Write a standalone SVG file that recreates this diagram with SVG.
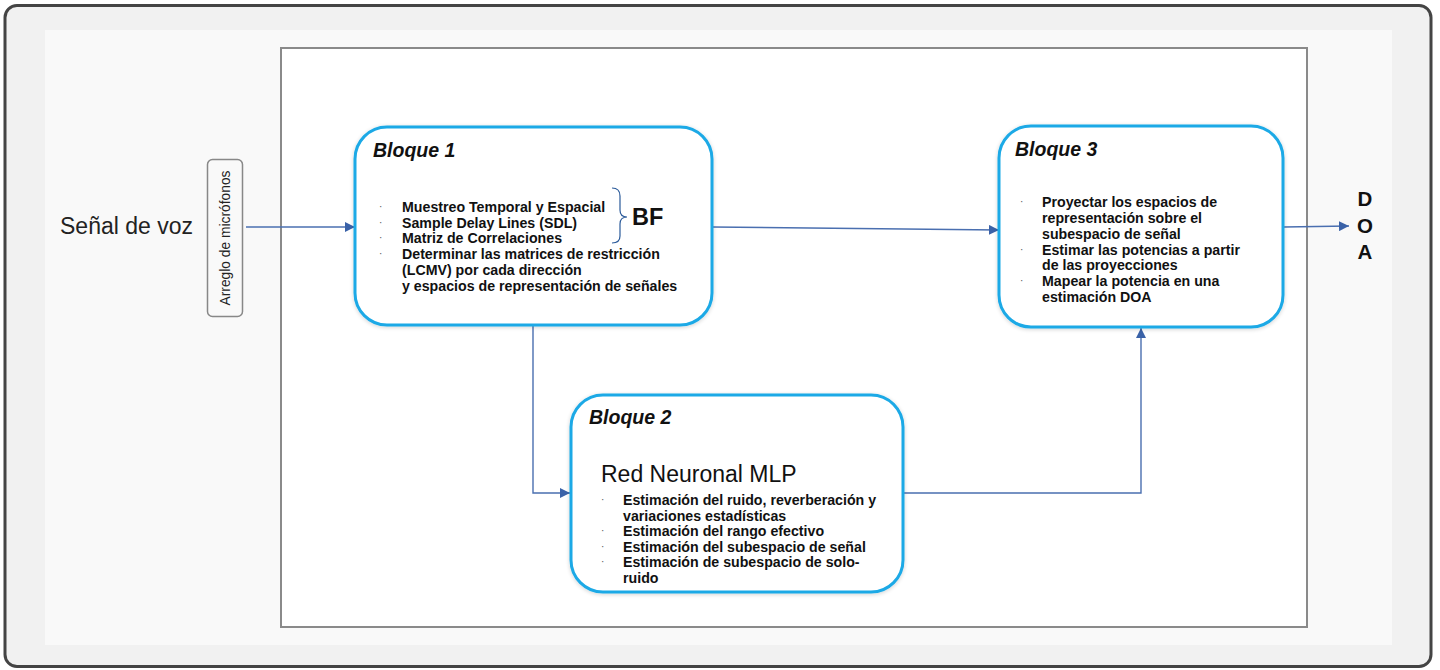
<svg xmlns="http://www.w3.org/2000/svg" width="1440" height="670" viewBox="0 0 1440 670">
  <defs>
    <style>
      .blk { fill: #ffffff; stroke: #1ba9e6; stroke-width: 3; filter: url(#soft); }
      .ttl { font-family: "Liberation Sans", Arial, sans-serif; font-weight: bold; font-style: italic; font-size: 19.5px; fill: #111; }
      .itm { font-family: "Liberation Sans", Arial, sans-serif; font-weight: bold; font-size: 14.2px; fill: #111; }
      .dot { font-family: "Liberation Sans", Arial, sans-serif; font-size: 10px; fill: #555; }
      .wire { fill: none; stroke: #4a6fb0; stroke-width: 1.4; }
    </style>
    <marker id="arr" viewBox="0 0 10 10" refX="10" refY="5" markerWidth="10" markerHeight="10" markerUnits="userSpaceOnUse" orient="auto">
      <path d="M0,0 L10,5 L0,10 z" fill="#3a62a8"/>
    </marker>
    <filter id="soft" x="-10%" y="-10%" width="120%" height="120%">
      <feGaussianBlur in="SourceAlpha" stdDeviation="2"/>
      <feOffset dx="0" dy="1" result="b"/>
      <feComponentTransfer><feFuncA type="linear" slope="0.18"/></feComponentTransfer>
      <feMerge><feMergeNode/><feMergeNode in="SourceGraphic"/></feMerge>
    </filter>
  </defs>

  <!-- frame and panels -->
  <rect x="5" y="5.5" width="1426" height="661" rx="12" fill="#f1f1f1" stroke="#444" stroke-width="3"/>
  <rect x="45" y="30" width="1347" height="615" fill="#f9f9f9"/>
  <rect x="281" y="48" width="1026" height="579" fill="#ffffff" stroke="#8a8a8a" stroke-width="2"/>

  <!-- input -->
  <g id="senal">
    <text x="60" y="234" font-family="Liberation Sans, Arial, sans-serif" font-size="23" fill="#222">Señal de voz</text>
  </g>
  <g id="arreglo">
    <rect x="207.5" y="159.5" width="35" height="157" rx="5" fill="#f9f9f9" stroke="#888" stroke-width="1.5"/>
    <text transform="translate(229.5,238) rotate(-90)" text-anchor="middle" font-family="Liberation Sans, Arial, sans-serif" font-size="13.8" fill="#222">Arreglo de micrófonos</text>
  </g>

  <!-- connectors -->
  <g id="connectors">
    <line class="wire" x1="246" y1="227" x2="355" y2="227" marker-end="url(#arr)"/>
    <line class="wire" x1="712" y1="227" x2="999" y2="230" marker-end="url(#arr)"/>
    <line class="wire" x1="1284" y1="227" x2="1349" y2="226" marker-end="url(#arr)"/>
    <polyline class="wire" points="533,325 533,493 570,493" marker-end="url(#arr)"/>
    <polyline class="wire" points="904,493 1141,493 1141,328" marker-end="url(#arr)"/>
  </g>

  <!-- Bloque 1 -->
  <g id="bloque1">
    <rect class="blk" x="355" y="127" width="357" height="198" rx="32"/>
    <text class="ttl" x="373" y="157">Bloque 1</text>
    <text class="dot" x="379" y="210">·</text>
    <text class="dot" x="379" y="226">·</text>
    <text class="dot" x="379" y="241">·</text>
    <text class="dot" x="379" y="257">·</text>
    <text class="itm" x="402" y="212">Muestreo Temporal y Espacial</text>
    <text class="itm" x="402" y="228">Sample Delay Lines (SDL)</text>
    <text class="itm" x="402" y="243">Matriz de Correlaciones</text>
    <text class="itm" x="402" y="259">Determinar las matrices de restricción</text>
    <text class="itm" x="402" y="275">(LCMV) por cada dirección</text>
    <text class="itm" x="402" y="291">y espacios de representación de señales</text>
    <path d="M612,188 Q620,188 620,196 L620,210 Q620,217 627,217 Q620,217 620,224 L620,236 Q620,243 612,243" fill="none" stroke="#2a5a9a" stroke-width="1.2"/>
    <text x="632" y="225" font-family="Liberation Sans, Arial, sans-serif" font-weight="bold" font-size="23.5" fill="#111">BF</text>
  </g>

  <!-- Bloque 2 -->
  <g id="bloque2">
    <rect class="blk" x="571" y="395" width="332" height="197" rx="32"/>
    <text class="ttl" x="589" y="424">Bloque 2</text>
    <text x="601" y="482" font-family="Liberation Sans, Arial, sans-serif" font-size="23" fill="#111">Red Neuronal MLP</text>
    <text class="dot" x="601" y="503">·</text>
    <text class="dot" x="601" y="534">·</text>
    <text class="dot" x="601" y="550">·</text>
    <text class="dot" x="601" y="565">·</text>
    <text class="itm" x="623" y="505">Estimación del ruido, reverberación y</text>
    <text class="itm" x="623" y="521">variaciones estadísticas</text>
    <text class="itm" x="623" y="536">Estimación del rango efectivo</text>
    <text class="itm" x="623" y="552">Estimación del subespacio de señal</text>
    <text class="itm" x="623" y="567">Estimación de subespacio de solo-</text>
    <text class="itm" x="623" y="583">ruido</text>
  </g>

  <!-- Bloque 3 -->
  <g id="bloque3">
    <rect class="blk" x="999" y="126" width="284" height="201" rx="32"/>
    <text class="ttl" x="1015" y="156">Bloque 3</text>
    <text class="dot" x="1020" y="205">·</text>
    <text class="dot" x="1020" y="253">·</text>
    <text class="dot" x="1020" y="284">·</text>
    <text class="itm" x="1042" y="207">Proyectar los espacios de</text>
    <text class="itm" x="1042" y="223">representación sobre el</text>
    <text class="itm" x="1042" y="239">subespacio de señal</text>
    <text class="itm" x="1042" y="255">Estimar las potencias a partir</text>
    <text class="itm" x="1042" y="270">de las proyecciones</text>
    <text class="itm" x="1042" y="286">Mapear la potencia en una</text>
    <text class="itm" x="1042" y="302">estimación DOA</text>
  </g>

  <!-- output -->
  <g id="doa" font-family="Liberation Sans, Arial, sans-serif" font-weight="bold" font-size="20.5" fill="#111" text-anchor="middle">
    <text x="1365" y="206">D</text>
    <text x="1365" y="233">O</text>
    <text x="1365" y="259">A</text>
  </g>
</svg>
